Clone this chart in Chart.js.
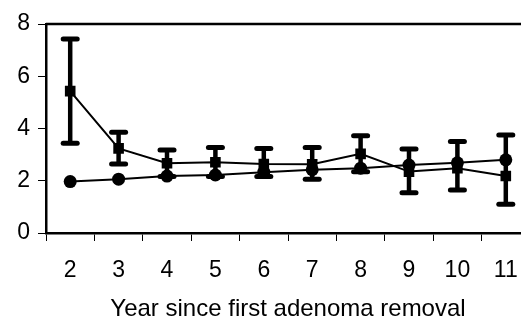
<!DOCTYPE html>
<html>
<head>
<meta charset="utf-8">
<script src="https://cdn.jsdelivr.net/npm/chart.js@4/dist/chart.umd.min.js"></script>
<style>
html,body{margin:0;padding:0;background:#fff;overflow:hidden;width:521px;height:321px;}
#wrap{width:560px;height:321px;position:relative;}
</style>
</head>
<body>
<div id="wrap"><canvas id="c" width="560" height="321"></canvas></div>
<script>
const years = ['2','3','4','5','6','7','8','9','10','11'];
const circleValues = [1.97, 2.06, 2.18, 2.22, 2.33, 2.42, 2.48, 2.60, 2.69, 2.80];
const squareValues = [5.43, 3.24, 2.67, 2.71, 2.64, 2.63, 3.03, 2.35, 2.48, 2.18];
const errorHigh = [7.43, 3.86, 3.18, 3.27, 3.23, 3.27, 3.72, 3.22, 3.50, 3.75];
const errorLow  = [3.44, 2.64, 2.16, 2.16, 2.16, 2.06, 2.34, 1.54, 1.65, 1.10];
const yTicks = [0, 2, 4, 6, 8];
const xTitle = 'Year since first adenoma removal';

const errorBarPlugin = {
  id: 'errorBars',
  afterDatasetsDraw(chart) {
    const ctx = chart.ctx;
    const xs = chart.scales.x, ys = chart.scales.y;
    ctx.save();
    ctx.strokeStyle = '#000';
    years.forEach((yr, i) => {
      const x = xs.getPixelForValue(i);
      const yH = ys.getPixelForValue(errorHigh[i]);
      const yL = ys.getPixelForValue(errorLow[i]);
      ctx.lineWidth = 4.5;
      ctx.lineCap = 'butt';
      ctx.beginPath(); ctx.moveTo(x, yH); ctx.lineTo(x, yL); ctx.stroke();
      ctx.lineWidth = 5;
      ctx.lineCap = 'round';
      ctx.beginPath(); ctx.moveTo(x - 7, yH); ctx.lineTo(x + 7, yH); ctx.stroke();
      ctx.beginPath(); ctx.moveTo(x - 7, yL); ctx.lineTo(x + 7, yL); ctx.stroke();
    });
    ctx.restore();
  }
};

const frameTopPlugin = {
  id: 'frameTop',
  afterDraw(chart) {
    const {ctx, chartArea} = chart;
    ctx.save();
    ctx.strokeStyle = '#000';
    ctx.lineWidth = 2.5;
    ctx.beginPath();
    ctx.moveTo(chartArea.left, chartArea.top);
    ctx.lineTo(chartArea.right, chartArea.top);
    ctx.lineTo(chartArea.right, chartArea.bottom);
    ctx.stroke();
    ctx.restore();
  }
};

const FONT = 'Liberation Sans, Arial, sans-serif';

new Chart(document.getElementById('c'), {
  type: 'line',
  data: {
    labels: years,
    datasets: [
      {
        label: 'circles',
        data: circleValues,
        borderColor: '#000',
        backgroundColor: '#000',
        borderWidth: 2,
        pointStyle: 'circle',
        pointRadius: 6.5,
        pointBorderWidth: 0,
        tension: 0
      },
      {
        label: 'squares',
        data: squareValues,
        borderColor: '#000',
        backgroundColor: '#000',
        borderWidth: 2,
        pointStyle: 'rect',
        pointRadius: 7.5,
        pointBorderWidth: 0,
        tension: 0
      }
    ]
  },
  options: {
    responsive: false,
    animation: false,
    devicePixelRatio: 1,
    layout: { padding: { left: 0, top: 24, right: 30, bottom: 0 } },
    plugins: { legend: { display: false }, tooltip: { enabled: false } },
    scales: {
      x: {
        type: 'category',
        offset: true,
        grid: { display: true, drawOnChartArea: false, drawTicks: true, tickLength: 8, tickWidth: 1, tickColor: '#000', offset: true },
        border: { display: true, color: '#000', width: 2.5 },
        ticks: { color: '#000', font: { family: FONT, size: 23 }, padding: 16, maxRotation: 0 },
        title: { display: true, text: xTitle, color: '#000', font: { family: FONT, size: 24, lineHeight: 1 }, padding: { top: 4, bottom: 0 } },
        afterFit(s) { s.height = 88; }
      },
      y: {
        min: 0, max: 8,
        afterBuildTicks(s) { s.ticks = yTicks.map(v => ({ value: v })); },
        grid: { display: true, drawOnChartArea: false, drawTicks: true, tickLength: 8, tickWidth: 1, tickColor: '#000' },
        border: { display: true, color: '#000', width: 2.5 },
        ticks: { color: '#000', font: { family: FONT, size: 23 }, padding: 8 },
        afterFit(s) { s.width = 46; }
      }
    }
  },
  plugins: [errorBarPlugin, frameTopPlugin]
});
</script>
</body>
</html>
